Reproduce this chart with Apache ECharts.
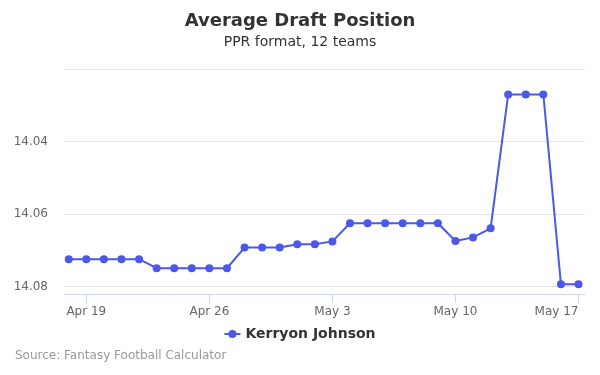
<!DOCTYPE html>
<html>
<head>
<meta charset="utf-8">
<script src="https://cdn.jsdelivr.net/npm/echarts@6/dist/echarts.min.js"></script>
<style>
  html, body { margin: 0; padding: 0; background: #fff; }
  #chart { width: 600px; height: 375px; }
</style>
</head>
<body>
<div id="chart"></div>
<script>
// dates (2018) and ADP values
var dates = [
  '2018-04-18', '2018-04-19', '2018-04-20', '2018-04-21', '2018-04-22', '2018-04-23',
  '2018-04-24', '2018-04-25', '2018-04-26', '2018-04-27', '2018-04-28', '2018-04-29',
  '2018-04-30', '2018-05-01', '2018-05-02', '2018-05-03', '2018-05-04', '2018-05-05',
  '2018-05-06', '2018-05-07', '2018-05-08', '2018-05-09', '2018-05-10', '2018-05-11',
  '2018-05-12', '2018-05-13', '2018-05-14', '2018-05-15', '2018-05-16', '2018-05-17'
];
var adp = [
  14.0724, 14.0724, 14.0724, 14.0724, 14.0724, 14.0749,
  14.0749, 14.0749, 14.0749, 14.0749, 14.0692, 14.0692,
  14.0692, 14.0683, 14.0683, 14.0675, 14.0625, 14.0625,
  14.0625, 14.0625, 14.0625, 14.0625, 14.0674, 14.0664,
  14.0639, 14.0270, 14.0270, 14.0270, 14.0793, 14.0793
];
var tickDates = ['2018-04-19', '2018-04-26', '2018-05-03', '2018-05-10', '2018-05-17'];
var playerName = 'Kerryon Johnson';

var DAY = 86400000;
var months = ['Jan','Feb','Mar','Apr','May','Jun','Jul','Aug','Sep','Oct','Nov','Dec'];
function ts(d) { return Date.UTC(+d.slice(0, 4), +d.slice(5, 7) - 1, +d.slice(8, 10)); }
var t0 = ts(dates[0]);
function dayNo(d) { return Math.round((ts(d) - t0) / DAY); }
var points = dates.map(function (d, i) { return [dayNo(d), adp[i]]; });
var tickDays = tickDates.map(dayNo);

var chart = echarts.init(document.getElementById('chart'));
chart.setOption({
  animation: false,
  textStyle: { fontFamily: 'DejaVu Sans' },
  title: {
    text: 'Average Draft Position',
    subtext: 'PPR format, 12 teams',
    left: 'center',
    top: 7,
    itemGap: 5,
    textStyle: { fontSize: 18, fontWeight: 'bold', color: '#333' },
    subtextStyle: { fontSize: 14, color: '#333' }
  },
  legend: {
    top: 322,
    left: 'center',
    itemWidth: 16,
    itemHeight: 9,
    itemGap: 5,
    icon: 'path://M0,3.5L16,3.5L16,5.5L0,5.5Z M4,4.5A4,4 0 1 1 12,4.5A4,4 0 1 1 4,4.5Z',
    textStyle: { fontSize: 14, fontWeight: 'bold', color: '#333' },
    data: [playerName]
  },
  graphic: [{
    type: 'text',
    left: 15,
    top: 350,
    style: { text: 'Source: Fantasy Football Calculator', fontSize: 12, fill: '#999', fontFamily: 'DejaVu Sans' }
  }],
  grid: { left: 64, right: 15, top: 69, bottom: 81, outerBoundsMode: 'none' },
  xAxis: {
    type: 'value',
    min: -0.27,
    max: points.length - 1 + 0.37,
    axisLine: { lineStyle: { color: '#ccd6eb' } },
    axisTick: { show: true, length: 9, lineStyle: { color: '#ccd6eb' }, customValues: tickDays },
    axisLabel: {
      color: '#666', fontSize: 12, margin: 12,
      customValues: tickDays,
      alignMaxLabel: 'right',
      formatter: function (v) {
        var d = new Date(t0 + v * DAY);
        return months[d.getUTCMonth()] + ' ' + d.getUTCDate();
      }
    },
    splitLine: { show: false }
  },
  yAxis: {
    type: 'value',
    inverse: true,
    min: 14.02,
    max: 14.082,
    interval: 0.02,
    axisLine: { show: false },
    axisTick: { show: false },
    axisLabel: {
      color: '#666', fontSize: 12, margin: 16,
      showMinLabel: false, showMaxLabel: false,
      formatter: function (v) { return v.toFixed(2); }
    },
    splitLine: { lineStyle: { color: '#e6e6e6' } }
  },
  series: [{
    name: playerName,
    type: 'line',
    data: points,
    color: '#4b58e8',
    symbol: 'circle',
    symbolSize: 8,
    lineStyle: { width: 2 }
  }]
});
</script>
</body>
</html>
